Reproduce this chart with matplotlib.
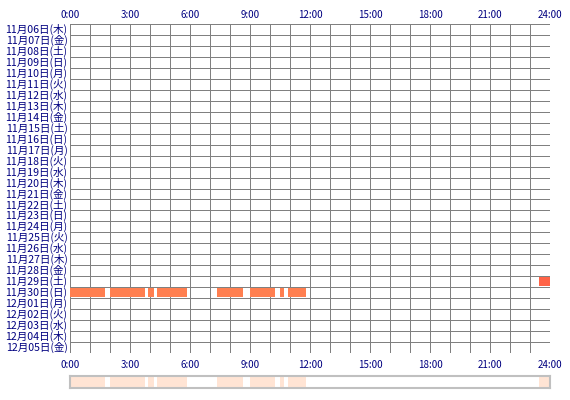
import matplotlib
matplotlib.use('Agg')
import matplotlib.pyplot as plt

plt.rcParams['font.family'] = ['Noto Sans CJK JP', 'DejaVu Sans']

# rows: dates shown on the left
dates = ['11月06日(木)', '11月07日(金)', '11月08日(土)', '11月09日(日)', '11月10日(月)',
         '11月11日(火)', '11月12日(水)', '11月13日(木)', '11月14日(金)', '11月15日(土)',
         '11月16日(日)', '11月17日(月)', '11月18日(火)', '11月19日(水)', '11月20日(木)',
         '11月21日(金)', '11月22日(土)', '11月23日(日)', '11月24日(月)', '11月25日(火)',
         '11月26日(水)', '11月27日(木)', '11月28日(金)', '11月29日(土)', '11月30日(日)',
         '12月01日(月)', '12月02日(火)', '12月03日(水)', '12月04日(木)', '12月05日(金)']
hour_ticks = [0, 3, 6, 9, 12, 15, 18, 21, 24]
hour_labels = ['0:00', '3:00', '6:00', '9:00', '12:00', '15:00', '18:00', '21:00', '24:00']

# active periods (start hour, end hour) per date
sessions_1129 = [(23.45, 24.0)]
sessions_1130 = [(0.0, 1.75), (2.0, 3.75), (3.92, 4.22), (4.33, 5.83),
                 (7.37, 8.67), (9.02, 10.25), (10.5, 10.68), (10.9, 11.78)]
active = {'11月29日(土)': (sessions_1129, '#ff6347'),
          '11月30日(日)': (sessions_1130, '#ff7f50')}

W, H = 570, 400
fig = plt.figure(figsize=(W / 100, H / 100), dpi=100)
ax = fig.add_axes([70 / W, (H - 353) / H, 480 / W, 329 / H])

navy = '#000080'
grid = '#808080'

for name, (sess, col) in active.items():
    i = dates.index(name)
    ax.broken_barh([(s, e - s) for s, e in sess], (i + 0.07, 0.86),
                   facecolor=col, edgecolor='none', zorder=3)

for h in range(25):
    ax.axvline(h, color=grid, lw=0.72, zorder=2, antialiased=False)
for r in range(len(dates) + 1):
    ax.axhline(r, color=grid, lw=0.72, zorder=2, antialiased=False)

ax.set_xlim(0, 24)
ax.set_ylim(len(dates), 0)
for s in ax.spines.values():
    s.set_visible(False)
ax.set_xticks([])
ax.set_yticks([])

for i, d in enumerate(dates):
    ax.text(-0.12, i + 0.5, d, ha='right', va='center', fontsize=7.6, color=navy)
for h, lab in zip(hour_ticks, hour_labels):
    ax.text(h, -0.8, lab, ha='center', va='center', fontsize=7, color=navy)
    ax.text(h, len(dates) + 1.1, lab, ha='center', va='center', fontsize=7, color=navy)

# summary strip at the bottom
ax2 = fig.add_axes([70 / W, (H - 388) / H, 480 / W, 12 / H])
all_sess = sessions_1129 + sessions_1130
ax2.broken_barh([(s, e - s) for s, e in all_sess], (0, 1),
                facecolor='#ffe4d4', edgecolor='none')
ax2.set_xlim(0, 24)
ax2.set_ylim(0, 1)
ax2.set_xticks([])
ax2.set_yticks([])
for s in ax2.spines.values():
    s.set_color('#c0c0c0')
    s.set_linewidth(1.5)

fig.savefig('out.png', dpi=100)
